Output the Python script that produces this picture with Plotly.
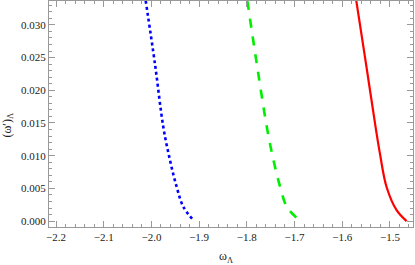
import plotly.graph_objects as go

# blue dotted curve
blue_x = [-2.012, -1.9925, -1.975, -1.961, -1.947, -1.933, -1.912]
blue_y = [0.0337, 0.024, 0.01436, 0.00929, 0.00522, 0.00218, 0.00015]
# green dashed curve
green_x = [-1.799, -1.779, -1.758, -1.744, -1.730, -1.716, -1.688]
green_y = [0.0337, 0.024, 0.01436, 0.00929, 0.00522, 0.00218, 0.0]
# red solid curve
red_x = [-1.5705, -1.550, -1.530, -1.521, -1.507, -1.486, -1.465]
red_y = [0.0337, 0.024, 0.01436, 0.01035, 0.00522, 0.00168, 0.0]

x_ticks = [-2.2, -2.1, -2.0, -1.9, -1.8, -1.7, -1.6, -1.5]
x_labels = ["−2.2", "−2.1", "−2.0", "−1.9", "−1.8", "−1.7", "−1.6", "−1.5"]
y_ticks = [0.000, 0.005, 0.010, 0.015, 0.020, 0.025, 0.030]
y_labels = ["0.000", "0.005", "0.010", "0.015", "0.020", "0.025", "0.030"]

SERIF = "Liberation Serif"

fig = go.Figure()
fig.add_trace(go.Scatter(x=blue_x, y=blue_y, mode="lines", line_shape="spline",
                         line=dict(color="#0000ff", width=2.6, dash="dot")))
fig.add_trace(go.Scatter(x=green_x, y=green_y, mode="lines", line_shape="spline",
                         line=dict(color="#00ee00", width=2.6, dash="dash")))
fig.add_trace(go.Scatter(x=red_x, y=red_y, mode="lines", line_shape="spline",
                         line=dict(color="#ff0000", width=2.2)))

axis_common = dict(showgrid=False, zeroline=False, showline=True, linecolor="#999999",
                   linewidth=1, mirror="ticks", ticks="inside", tickcolor="#999999",
                   ticklen=6, tickwidth=1, automargin=False,
                   tickfont=dict(family=SERIF, size=11, color="#222222"))

fig.update_layout(
    width=415, height=265,
    margin=dict(l=49, r=2, t=1, b=38),
    paper_bgcolor="white", plot_bgcolor="white",
    showlegend=False,
    font=dict(family=SERIF, size=11, color="#222222"),
    xaxis=dict(range=[-2.2147, -1.4516], tickvals=x_ticks, ticktext=x_labels,
               minor=dict(dtick=0.02, ticks="inside", ticklen=3, tickcolor="#999999"),
               **axis_common),
    yaxis=dict(range=[-0.0009, 0.03365], tickvals=y_ticks, ticktext=y_labels,
               minor=dict(dtick=0.001, ticks="inside", ticklen=3, tickcolor="#999999"),
               **axis_common),
    annotations=[
        dict(text="ω<sub>Λ</sub>", xref="paper", yref="paper", x=0.485, y=-0.09,
             xanchor="center", yanchor="top", showarrow=False,
             font=dict(family=SERIF, size=12, color="#222222")),
        dict(text="(ω′)<sub>Λ</sub>", xref="paper", yref="paper", x=-0.112, y=0.45,
             xanchor="center", yanchor="middle", showarrow=False, textangle=-90,
             font=dict(family=SERIF, size=12, color="#222222")),
    ],
)

fig.write_html("out.html", config={"displayModeBar": False},
               post_script="document.body.style.margin='0';")
